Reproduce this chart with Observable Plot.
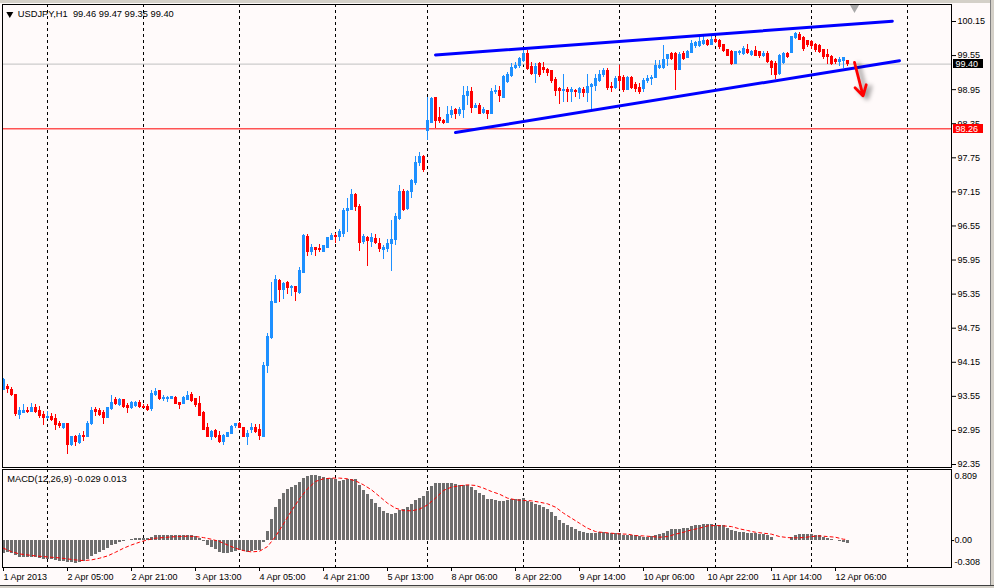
<!DOCTYPE html>
<html><head><meta charset="utf-8">
<script src="https://cdn.jsdelivr.net/npm/d3@7"></script>
<script src="https://cdn.jsdelivr.net/npm/@observablehq/plot@0.6"></script>
<style>
html,body{margin:0;padding:0;background:#fffafa;}
#wrap{position:relative;width:994px;height:588px;overflow:hidden;background:#fffafa;}
#main,#macd{position:absolute;left:0;}
#main{top:0;} #macd{top:468px;}
.chrome{position:absolute;background:#d4d0c8;box-sizing:border-box;}
</style></head><body>
<div id="wrap"><div id="main"></div><div id="macd"></div>
<div class="chrome" style="left:0;top:0;width:994px;height:3px;"></div>
<div class="chrome" style="left:990px;top:0;width:4px;height:588px;border-left:1px solid #808080"></div>
<div class="chrome" style="left:0;top:585px;width:994px;height:3px;border-top:1px solid #404040"></div>
</div>
<script>
// ---- price data (H1 bars, index 0 = 1 Apr 2013 13:00) ----
const open = [
93.67,93.71,93.67,93.57,93.22,93.26,93.29,93.28,93.35,93.30,
93.23,93.16,93.18,93.15,93.06,93.00,93.06,92.69,92.83,92.73,
92.86,92.83,93.06,93.31,93.30,93.25,93.17,93.33,93.48,93.39,
93.48,93.38,93.34,93.38,93.44,93.37,93.36,93.32,93.57,93.64,
93.50,93.50,93.51,93.52,93.43,93.41,93.49,93.58,93.50,93.41,
93.25,93.00,92.83,92.94,92.86,92.74,92.84,92.89,93.02,93.07,
93.00,92.83,92.96,92.99,92.96,92.83,94.08,94.58,95.20,95.58,
95.43,95.55,95.46,95.48,95.37,95.73,96.36,96.10,96.16,96.15,
96.10,96.17,96.31,96.37,96.36,96.40,96.82,96.83,97.10,96.88,
96.27,96.34,96.26,96.32,96.24,96.12,96.15,96.24,96.31,96.68,
97.15,96.85,97.15,97.31,97.65,97.77,98.22,98.37,98.81,98.45,
98.39,98.37,98.51,98.59,98.52,98.60,98.83,98.91,98.63,98.67,
98.54,98.58,98.52,98.90,98.92,98.81,99.08,99.19,99.33,99.36,
99.46,99.58,99.35,99.23,99.40,99.34,99.30,99.27,99.12,98.96,
98.93,98.95,98.90,98.93,98.89,98.95,98.89,99.00,99.01,99.11,
99.20,99.28,99.00,98.98,99.17,99.16,98.95,99.16,99.03,98.98,
98.96,99.11,99.13,99.16,99.33,99.34,99.49,99.58,99.58,99.30,
99.58,99.51,99.60,99.71,99.72,99.76,99.80,99.74,99.83,99.80,
99.73,99.64,99.61,99.40,99.59,99.58,99.65,99.56,99.63,99.61,
99.54,99.58,99.43,99.40,99.23,99.42,99.58,99.60,99.86,99.92,
99.86,99.80,99.79,99.74,99.72,99.64,99.56,99.52,99.47,99.43,
99.45,99.46];
const high = [
93.86,93.75,93.71,93.58,93.36,93.40,93.35,93.42,93.41,93.38,
93.29,93.29,93.24,93.23,93.10,93.08,93.08,92.85,92.86,92.90,
92.93,93.10,93.35,93.35,93.33,93.30,93.36,93.56,93.53,93.52,
93.50,93.43,93.46,93.46,93.48,93.40,93.40,93.65,93.68,93.66,
93.56,93.54,93.54,93.54,93.43,93.55,93.64,93.61,93.52,93.55,
93.28,93.08,92.95,92.97,92.93,92.88,92.92,93.04,93.08,93.09,
93.01,92.94,93.08,93.05,93.06,94.15,94.66,95.55,95.67,95.61,
95.55,95.57,95.51,95.49,95.81,96.40,96.40,96.23,96.17,96.22,
96.21,96.33,96.42,96.42,96.49,96.85,97.04,97.19,97.13,96.93,
96.40,96.37,96.42,96.40,96.33,96.20,96.31,96.65,96.77,97.26,
97.19,97.18,97.37,97.78,97.84,97.79,98.81,98.82,98.82,98.63,
98.42,98.66,98.66,98.61,98.64,99.00,99.00,98.99,98.71,98.71,
98.63,98.59,98.97,99.03,99.00,99.20,99.26,99.41,99.43,99.52,
99.66,99.64,99.42,99.41,99.42,99.42,99.33,99.28,99.16,98.99,
99.22,98.98,98.98,98.96,98.98,98.99,99.22,99.06,99.22,99.29,
99.33,99.33,99.07,99.18,99.37,99.20,99.18,99.18,99.07,99.05,
99.14,99.20,99.20,99.47,99.46,99.72,99.57,99.60,99.60,99.60,
99.63,99.64,99.81,99.80,99.86,99.89,99.84,99.89,99.87,99.83,
99.75,99.66,99.64,99.63,99.64,99.71,99.75,99.64,99.71,99.63,
99.63,99.62,99.47,99.45,99.57,99.60,99.61,99.89,99.96,99.95,
99.89,99.82,99.82,99.77,99.74,99.66,99.66,99.55,99.50,99.52,
99.51,99.47];
const low = [
93.66,93.60,93.55,93.19,93.14,93.25,93.24,93.27,93.25,93.16,
93.03,93.14,93.10,92.95,92.99,92.97,92.53,92.67,92.67,92.70,
92.76,92.82,93.04,93.19,93.19,93.05,93.16,93.30,93.39,93.37,
93.34,93.25,93.31,93.36,93.33,93.33,93.29,93.29,93.55,93.48,
93.46,93.45,93.50,93.40,93.31,93.40,93.48,93.45,93.35,93.19,
92.94,92.82,92.77,92.80,92.72,92.68,92.82,92.87,92.99,92.98,
92.82,92.69,92.90,92.90,92.78,92.82,93.96,94.55,95.19,95.21,
95.26,95.34,95.31,95.22,95.34,95.72,96.01,96.03,96.01,96.09,
96.09,96.16,96.30,96.25,96.27,96.35,96.44,96.82,96.80,96.10,
96.22,95.83,96.17,96.22,96.08,95.96,96.08,95.74,96.20,96.64,
96.81,96.83,97.03,97.27,97.60,97.49,98.05,98.36,98.27,98.36,
98.34,98.36,98.44,98.42,98.47,98.45,98.67,98.53,98.61,98.52,
98.52,98.43,98.51,98.87,98.72,98.79,99.06,99.17,99.30,99.33,
99.43,99.29,99.20,99.05,99.17,99.24,99.18,99.06,98.83,98.69,
98.73,98.73,98.73,98.82,98.77,98.82,98.73,98.60,98.92,99.08,
99.17,98.94,98.90,98.95,98.95,98.90,98.93,98.96,98.90,98.87,
98.90,99.05,99.03,99.14,99.31,99.31,99.36,99.46,98.93,99.28,
99.47,99.49,99.58,99.68,99.70,99.72,99.71,99.72,99.76,99.66,
99.60,99.53,99.38,99.39,99.55,99.56,99.57,99.53,99.53,99.50,
99.52,99.41,99.20,99.12,99.20,99.40,99.50,99.58,99.84,99.81,
99.62,99.70,99.66,99.60,99.58,99.48,99.39,99.37,99.40,99.36,
99.33,99.35];
const close = [
93.84,93.68,93.57,93.24,93.29,93.30,93.27,93.34,93.28,93.21,
93.17,93.18,93.14,93.05,93.02,93.06,92.70,92.83,92.74,92.86,
92.83,93.06,93.30,93.28,93.22,93.17,93.34,93.43,93.41,93.48,
93.36,93.34,93.43,93.44,93.36,93.34,93.31,93.59,93.63,93.50,
93.52,93.52,93.53,93.42,93.40,93.52,93.56,93.47,93.40,93.21,
92.96,92.83,92.93,92.83,92.74,92.86,92.90,93.01,93.06,93.00,
92.83,92.89,93.00,92.93,92.85,94.08,94.60,95.21,95.60,95.42,
95.53,95.46,95.48,95.39,95.75,96.37,96.10,96.17,96.12,96.12,
96.20,96.33,96.38,96.36,96.45,96.82,96.84,97.10,96.89,96.25,
96.36,96.28,96.33,96.25,96.14,96.17,96.23,96.31,96.70,97.15,
96.83,97.15,97.34,97.66,97.77,97.53,98.40,98.79,98.39,98.39,
98.37,98.51,98.58,98.52,98.60,98.84,98.91,98.63,98.67,98.53,
98.59,98.52,98.91,98.92,98.83,99.17,99.20,99.33,99.37,99.49,
99.58,99.32,99.23,99.35,99.20,99.30,99.24,99.11,98.93,98.93,
98.95,98.90,98.95,98.90,98.96,98.89,99.00,99.04,99.14,99.21,
99.27,98.98,98.98,99.14,99.11,98.95,99.16,98.98,98.96,98.90,
99.11,99.14,99.15,99.36,99.36,99.47,99.56,99.49,99.30,99.56,
99.49,99.61,99.76,99.77,99.79,99.80,99.73,99.83,99.79,99.70,
99.63,99.55,99.40,99.61,99.61,99.66,99.60,99.61,99.55,99.54,
99.58,99.43,99.34,99.20,99.55,99.58,99.52,99.87,99.93,99.83,
99.67,99.73,99.72,99.64,99.62,99.52,99.52,99.40,99.43,99.47,
99.50,99.40];

// ---- MACD(12,26,9) ----
const macdHist = [
-0.145,-0.137,-0.153,-0.176,-0.191,-0.191,-0.195,-0.195,-0.198,-0.206,
-0.214,-0.221,-0.221,-0.233,-0.237,-0.237,-0.252,-0.252,-0.260,-0.256,
-0.240,-0.214,-0.183,-0.156,-0.134,-0.115,-0.088,-0.061,-0.042,-0.023,
-0.011,-0.004,0.008,0.023,0.027,0.027,0.027,0.038,0.057,0.057,
0.057,0.057,0.057,0.053,0.053,0.053,0.053,0.053,0.046,0.027,
-0.015,-0.061,-0.080,-0.107,-0.134,-0.145,-0.145,-0.137,-0.126,-0.118,
-0.130,-0.134,-0.130,-0.118,-0.115,-0.023,0.103,0.237,0.378,0.473,
0.534,0.588,0.607,0.626,0.664,0.706,0.733,0.744,0.744,0.733,
0.721,0.714,0.714,0.702,0.676,0.687,0.695,0.695,0.695,0.626,
0.573,0.523,0.473,0.427,0.378,0.332,0.313,0.294,0.313,0.340,
0.359,0.382,0.408,0.454,0.485,0.504,0.561,0.618,0.649,0.656,
0.656,0.656,0.656,0.637,0.626,0.630,0.630,0.607,0.573,0.542,
0.511,0.473,0.473,0.458,0.450,0.450,0.462,0.469,0.473,0.473,
0.481,0.450,0.435,0.408,0.397,0.378,0.351,0.324,0.275,0.229,
0.191,0.168,0.149,0.130,0.103,0.092,0.084,0.084,0.084,0.095,
0.095,0.084,0.076,0.076,0.076,0.061,0.057,0.053,0.053,0.046,
0.038,0.038,0.046,0.057,0.073,0.084,0.103,0.130,0.122,0.122,
0.134,0.141,0.160,0.172,0.172,0.187,0.187,0.187,0.172,0.172,
0.172,0.141,0.115,0.103,0.092,0.092,0.084,0.076,0.076,0.073,
0.065,0.053,0.034,-0.004,-0.004,-0.004,-0.004,0.034,0.053,0.065,
0.065,0.065,0.065,0.057,0.053,0.038,0.027,0.015,-0.004,-0.011,
-0.027,-0.029];
const sigIdx = [0,2,4,6,8,10,12,14,16,18,20,22,24,26,28,30,32,34,36,38,40,42,44,46,48,50,52,54,56,58,60,62,64,66,68,70,72,74,76,78,80,82,84,86,88,90,92,94,96,98,100,102,104,106,108,110,112,114,116,118,120,122,124,126,128,130,132,134,136,138,140,142,144,146,148,150,152,154,156,158,160,162,164,166,168,170,172,174,176,178,180,182,184,186,188,190,192,194,196,198,200,202,204,206,208,210,211];
const sigVal = [-0.088,-0.126,-0.153,-0.164,-0.176,-0.183,-0.191,-0.198,-0.210,-0.221,-0.229,-0.221,-0.202,-0.176,-0.134,-0.088,-0.050,-0.019,0.008,0.027,0.034,0.042,0.046,0.050,0.046,0.034,0.015,-0.011,-0.050,-0.088,-0.115,-0.130,-0.122,-0.069,0.046,0.191,0.340,0.477,0.592,0.676,0.706,0.714,0.714,0.706,0.683,0.637,0.580,0.504,0.427,0.370,0.343,0.340,0.359,0.408,0.485,0.573,0.611,0.626,0.637,0.630,0.599,0.561,0.530,0.485,0.466,0.458,0.454,0.439,0.420,0.382,0.313,0.256,0.198,0.141,0.103,0.092,0.084,0.076,0.073,0.057,0.053,0.046,0.038,0.046,0.073,0.095,0.122,0.141,0.168,0.172,0.168,0.160,0.134,0.115,0.095,0.084,0.073,0.046,0.034,0.031,0.034,0.046,0.053,0.046,0.038,0.015,0.013];

// ---- axes / annotations ----
const yTicks = [100.15,99.55,98.95,98.35,97.75,97.15,96.55,95.95,95.35,94.75,94.15,93.55,92.95,92.35];
const xTickBars = [0,16,32,48,64,80,96,112,128,144,160,176,192,208];
const xTickLabels = ["1 Apr 2013","2 Apr 05:00","2 Apr 21:00","3 Apr 13:00","4 Apr 05:00","4 Apr 21:00","5 Apr 13:00","8 Apr 06:00","8 Apr 22:00","9 Apr 14:00","10 Apr 06:00","10 Apr 22:00","11 Apr 14:00","12 Apr 06:00"];
const dayStartBars = [11,35,59,83,106,130,154,178,202,226];
const bidPrice = 99.40;
const levelPrice = 98.26;
const upperTrend = [[108,99.56],[222.2,100.155]];
const lowerTrend = [[113,98.196],[224,99.46]];
const downArrow = [{x1:212.75,y1:99.43,x2:214.9,y2:98.84}];
const shiftBar = [212.75];
const titleText = "USDJPY,H1  99.46 99.47 99.35 99.40";
const macdTitle = "MACD(12,26,9) -0.029 0.013";
const macdMax = 0.809, macdMin = -0.308;
const macdMaxLabel = "0.809", macdMinLabel = "-0.308";
const xMax = 237;

const bull = "#1e90ff", bear = "#ff0000";
const bars = close.map((c, i) => ({i, o: open[i], h: high[i], l: low[i], c, col: c > open[i] ? bull : bear}));
const hist = macdHist.map((v, i) => ({i, v}));
const sig = sigIdx.map((i, k) => ({i, v: sigVal[k]}));
const labelMap = new Map(xTickBars.map((b, k) => [b, xTickLabels[k]]));
const priceBoxes = [{v: bidPrice, t: bidPrice.toFixed(2), bg: "#000000"}, {v: levelPrice, t: levelPrice.toFixed(2), bg: "#ff0000"}];

const font = {background: "transparent", fontFamily: "'Liberation Sans', Arial, sans-serif", fontSize: "9px", color: "black"};
const X = {domain: [0, xMax], range: [3, 951], axis: null, label: null};

const main = Plot.plot({
  width: 994, height: 468,
  marginLeft: 2, marginRight: 43, marginTop: 4, marginBottom: 1,
  x: X,
  y: {domain: [92.35, 100.15], range: [464, 21], axis: null, label: null},
  style: font,
  marks: [
    Plot.ruleX(dayStartBars, {stroke: "black", strokeDasharray: "3,3"}),
    Plot.ruleY([bidPrice], {stroke: "#c0c0c0"}),
    Plot.ruleY([levelPrice], {stroke: "red"}),
    Plot.ruleX(bars, {x: "i", y1: "l", y2: "h", stroke: "col", shapeRendering: "crispEdges"}),
    Plot.rect(bars, {x1: d => d.i - 0.375, x2: d => d.i + 0.375, y1: "o", y2: "c", fill: "col", insetTop: -0.5, insetBottom: -0.5, shapeRendering: "crispEdges"}),
    Plot.line(upperTrend, {x: d => d[0], y: d => d[1], stroke: "#0000ff", strokeWidth: 3}),
    Plot.line(lowerTrend, {x: d => d[0], y: d => d[1], stroke: "#0000ff", strokeWidth: 3}),
    Plot.arrow(downArrow, {x1: "x1", y1: "y1", x2: "x2", y2: "y2", stroke: "#000", strokeOpacity: 0.35, strokeWidth: 4, headLength: 9, dx: 4, dy: 2, imageFilter: "blur(2px)"}),
    Plot.arrow(downArrow, {x1: "x1", y1: "y1", x2: "x2", y2: "y2", stroke: "red", strokeWidth: 2.8, headLength: 10}),
    Plot.dot(shiftBar, {x: d => d, frameAnchor: "top", dy: 3, symbol: "triangle", rotate: 180, r: 3.5, fill: "#a8a8a8", stroke: "none"}),
    Plot.dot([0], {frameAnchor: "top-left", dx: 7.3, dy: 9.5, symbol: "triangle", rotate: 180, r: 2.6, fill: "black", stroke: "none"}),
    Plot.text([titleText], {frameAnchor: "top-left", dx: 15.3, dy: 10, textAnchor: "start", lineAnchor: "middle", fontSize: 9.3}),
    Plot.axisY({anchor: "right", ticks: yTicks, tickFormat: d => d.toFixed(2), tickSize: 4, tickPadding: 2, fontSize: 9, label: null}),
    Plot.rect(priceBoxes, {x1: () => xMax, x2: () => xMax, y1: "v", y2: "v", insetLeft: 2, insetRight: -32, insetTop: -4.5, insetBottom: -4.5, fill: "bg", shapeRendering: "crispEdges"}),
    Plot.text(priceBoxes, {x: () => xMax, y: "v", text: "t", dx: 4, textAnchor: "start", fill: "white", fontSize: 9}),
    Plot.frame({stroke: "black"})
  ]
});
document.getElementById("main").appendChild(main);

const macd = Plot.plot({
  width: 994, height: 120,
  marginLeft: 2, marginRight: 43, marginTop: 1, marginBottom: 21,
  x: X,
  y: {domain: [macdMin, macdMax], range: [99, 1.3], axis: null, label: null},
  style: font,
  marks: [
    Plot.ruleX(dayStartBars, {stroke: "black", strokeDasharray: "3,3"}),
    Plot.rect(hist, {x1: d => d.i - 0.375, x2: d => d.i + 0.375, y1: 0, y2: "v", fill: "#6e6e6e", shapeRendering: "crispEdges"}),
    Plot.line(sig, {x: "i", y: "v", stroke: "red", strokeWidth: 1, strokeDasharray: "3,3"}),
    Plot.text([macdTitle], {frameAnchor: "top-left", dx: 4.7, dy: 9.7, textAnchor: "start", lineAnchor: "middle", fontSize: 9.3}),
    Plot.axisY({anchor: "right", ticks: [0], tickFormat: () => "0.00", tickSize: 2, tickPadding: 1, fontSize: 9, label: null}),
    Plot.text([macdMaxLabel], {frameAnchor: "top-right", dx: 3, dy: 7, textAnchor: "start", lineAnchor: "middle", fontSize: 9}),
    Plot.text([macdMinLabel], {frameAnchor: "bottom-right", dx: 3, dy: -2.5, textAnchor: "start", lineAnchor: "bottom", fontSize: 9, fill: "black"}),
    Plot.axisX({anchor: "bottom", ticks: xTickBars, tickFormat: d => labelMap.get(d), tickSize: 4, tickPadding: 2, textAnchor: "start", fontSize: 9, label: null}),
    Plot.frame({stroke: "black"})
  ]
});
document.getElementById("macd").appendChild(macd);
</script>
</body></html>
